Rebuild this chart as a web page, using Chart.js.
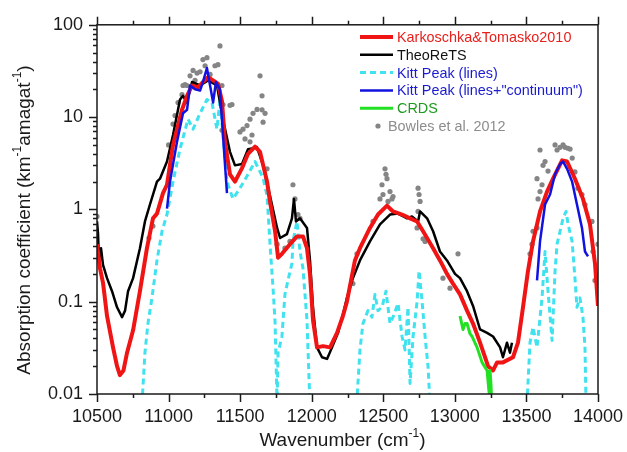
<!DOCTYPE html>
<html>
<head>
<meta charset="utf-8">
<script src="https://cdn.jsdelivr.net/npm/chart.js@4.4.1/dist/chart.umd.min.js"></script>
<style>
  body { margin: 0; background: #fff; }
  canvas { display: block; }
</style>
</head>
<body>
<canvas id="myChart" width="627" height="452"></canvas>
<script>
// values (wavenumber in cm-1, absorption in km-1 amagat-1)
const xTicks = [10500, 11000, 11500, 12000, 12500, 13000, 13500, 14000];
const yTicks = [0.01, 0.1, 1, 10, 100];

const karkX = [10500, 10521, 10542, 10570, 10612, 10640, 10660, 10685, 10710, 10752, 10800, 10849, 10891, 10919, 10961, 10989,
  11031, 11094, 11129, 11164, 11205, 11240, 11276, 11311, 11345, 11373, 11394, 11429, 11464, 11513, 11555, 11604, 11639,
  11688, 11709, 11744, 11765, 11792, 11848, 11897, 11939, 11967, 11988, 12009, 12037, 12079, 12128, 12177, 12218, 12246,
  12302, 12337, 12407, 12463, 12526, 12568, 12631, 12687, 12736, 12778, 12848, 12896, 12945, 12987, 13036, 13085, 13127,
  13176, 13232, 13267, 13295, 13336, 13406, 13441, 13476, 13511, 13546, 13595, 13644, 13686, 13749, 13784, 13839, 13895,
  13944, 13979, 14000];
const karkY = [0.42, 0.23, 0.16, 0.07, 0.032, 0.02, 0.016, 0.018, 0.028, 0.049, 0.13, 0.38, 0.8, 0.9, 1.5, 1.85,
  5.0, 12, 17, 22, 21, 24, 27, 25, 23, 15, 5.4, 2.4, 2.0, 2.8, 4.0, 4.8, 4.2,
  2.0, 1.2, 0.58, 0.3, 0.33, 0.42, 0.51, 0.51, 0.38, 0.2, 0.063, 0.032, 0.033, 0.032, 0.046, 0.07, 0.1,
  0.28, 0.38, 0.63, 0.88, 1.1, 0.95, 0.88, 0.8, 0.74, 0.58, 0.38, 0.28, 0.2, 0.157, 0.12, 0.08, 0.058,
  0.036, 0.02, 0.018, 0.022, 0.022, 0.025, 0.036, 0.087, 0.216, 0.45, 0.95, 1.56, 2.15, 3.4, 3.3, 2.15, 1.3,
  0.69, 0.26, 0.09];

const theoX = [10500, 10507, 10514, 10528, 10542, 10570, 10605, 10640, 10675, 10696, 10717, 10752, 10800, 10835, 10870,
  10919, 10940, 10989, 11031, 11080, 11101, 11129, 11164, 11220, 11276, 11338, 11380, 11429, 11464, 11513, 11555, 11618,
  11660, 11709, 11758, 11779, 11827, 11862, 11876, 11890, 11918, 11967, 11988, 12009, 12037, 12072, 12107, 12142, 12184,
  12220, 12246, 12288, 12337, 12407, 12477, 12547, 12603, 12666, 12700, 12743, 12757, 12806, 12848, 12896, 12945, 13001,
  13036, 13085, 13127, 13176, 13225, 13267, 13316, 13336, 13364, 13385, 13399];
const theoY = [0.74, 0.55, 0.28, 0.38, 0.25, 0.18, 0.13, 0.087, 0.068, 0.08, 0.13, 0.18, 0.38, 0.74, 1.13,
  2.0, 2.15, 3.3, 6.4, 15.5, 17, 14.4, 24, 22, 25, 22, 9.5, 4.2, 3.0, 3.1, 4.5, 4.7,
  3.0, 1.4, 0.63, 0.49, 0.54, 0.8, 1.3, 0.74, 0.8, 0.63, 0.28, 0.087, 0.032, 0.025, 0.024, 0.032, 0.046,
  0.075, 0.11, 0.18, 0.28, 0.45, 0.69, 0.88, 0.9, 0.8, 0.84, 0.74, 0.95, 0.8, 0.58, 0.35, 0.28, 0.2,
  0.18, 0.13, 0.09, 0.05, 0.046, 0.042, 0.032, 0.025, 0.036, 0.028, 0.036];

const kittLinesX = [10810, 10835, 10856, 10884, 10919, 10954, 10989, 11031, 11080, 11136, 11171, 11220, 11268, 11303,
  11338, 11359, 11380, 11408, 11450, 11499, 11555, 11604, 11660, 11688, 11700, 11715, 11730, 11744, 11758, 11765, 11792,
  11813, 11834, 11862, 11869, 11883, 11897, 11918, 11939, 11967, 11990, 12150,
  12310, 12337, 12358, 12393, 12421, 12442, 12463, 12491, 12519, 12547, 12568, 12603, 12631, 12652, 12673, 12687, 12708,
  12736, 12750, 12771, 12792, 12813, 12830, 13200,
  13500, 13525, 13546, 13574, 13609, 13630, 13651, 13679, 13700, 13714, 13735, 13756, 13777, 13791, 13819, 13839, 13853,
  13874, 13895, 13909, 13918];
const kittLinesY = [0.006, 0.028, 0.058, 0.11, 0.28, 0.58, 0.88, 2.0, 4.5, 9.5, 7.4, 11, 15.5, 14.4,
  7.4, 15.5, 6.4, 2.0, 1.3, 1.7, 2.4, 3.3, 2.2, 1.4, 0.7, 0.3, 0.14, 0.06, 0.008, 0.028, 0.042,
  0.12, 0.17, 0.26, 0.45, 0.58, 0.74, 0.35, 0.23, 0.063, 0.006, null,
  0.006, 0.03, 0.058, 0.08, 0.068, 0.12, 0.08, 0.087, 0.13, 0.058, 0.068, 0.096, 0.042, 0.03, 0.087, 0.013, 0.042,
  0.1, 0.216, 0.1, 0.042, 0.0196, 0.006, null,
  0.006, 0.036, 0.053, 0.032, 0.11, 0.35, 0.13, 0.038, 0.216, 0.42, 0.58, 0.8, 0.95, 0.69, 0.45, 0.18, 0.087,
  0.11, 0.068, 0.032, 0.006];

const kittContX = [10989, 11010, 11059, 11101, 11129, 11150, 11185, 11220, 11240, 11268, 11290, 11311, 11331, 11359,
  11380, 11408, 12500, 13574, 13595, 13630, 13665, 13700, 13735, 13756, 13784, 13819, 13853, 13888, 13909, 13930];
const kittContY = [1.02, 2.0, 5.4, 11, 12, 22, 20, 19.4, 24, 34, 22, 14.4, 24, 20,
  6.4, 1.5, null, 0.17, 0.45, 1.13, 1.45, 2.4, 3.1, 3.3, 2.75, 2.0, 1.13, 0.63, 0.35, 0.31];

const crdsX = [13036, 13057, 13071, 13085, 13106, 13120, 13155, 13190, 13225, 13239, 13246, 13253, 13260];
const crdsY = [0.07, 0.05, 0.058, 0.058, 0.045, 0.042, 0.032, 0.022, 0.018, 0.0104, 0.018, 0.012, 0.006];

const bowlesX = [10500, 10863, 10891, 10996, 11000, 11031, 11045, 11066, 11094, 11101, 11115, 11129, 11150, 11171, 11185,
  11199, 11220, 11240, 11255, 11268, 11290, 11324, 11345, 11359, 11373, 11380, 11373, 11429, 11443, 11499, 11520, 11534,
  11548, 11569, 11569, 11583, 11590, 11618, 11639, 11653, 11660, 11653, 11674, 11688, 11758, 11813, 11848, 11869, 11883,
  11904, 11918, 12288, 12316, 12428, 12477, 12491, 12498, 12512, 12519, 12526, 12533, 12547, 12561, 12568, 12736, 12743,
  12743, 12750, 12757, 12778, 12792, 12917, 12966, 13022, 13525, 13539, 13546, 13574, 13574, 13581, 13595, 13595, 13609,
  13616, 13630, 13651, 13700, 13714, 13735, 13756, 13770, 13790, 13805, 13820, 13839, 13860, 13888, 13909, 13958, 13965,
  13979, 14000];
const bowlesY = [0.84, 0.49, 0.66, 1.85, 5.0, 8.4, 10.4, 14.4, 17.5, 22, 22.5, 22, 28, 32, 25,
  30, 31, 42, 36, 44, 29, 36, 37, 59, 22, 13.7, 7.2, 13.4, 13.7, 6.9, 7.4, 5.8,
  8.1, 5.4, 9.5, 6.4, 11, 12.1, 28, 17, 8.8, 12, 11, 2.75, 0.42, 0.38, 0.45, 1.85, 1.3,
  0.88, 0.8, 0.157, 0.33, 0.74, 1.3, 1.85, 1.45, 2.75, 2.4, 2.15, 1.22, 1.56, 1.3, 1.38, 0.63, 0.95,
  1.7, 1.45, 1.22, 0.48, 0.45, 0.18, 0.14, 0.33, 0.33, 0.42, 0.58, 0.63, 2.15, 1.3, 1.56, 4.4, 1.85,
  3.0, 3.3, 2.6, 5.0, 4.4, 4.7, 5.0, 4.7, 4.6, 4.5, 3.6, 2.55, 1.7, 1.45, 1.13, 0.74, 0.35,
  0.17, 0.42];

const legendNames = ['Karkoschka&Tomasko2010', 'TheoReTS', 'Kitt Peak (lines)',
  'Kitt Peak (lines+"continuum")', 'CRDS', 'Bowles et al. 2012'];
const legendColors = ['#e8201c', '#111111', '#1a1ad0', '#1a1ad0', '#1e9a1e', '#8c8c8c'];

const FONT = '"Liberation Sans", Arial, sans-serif';

const pts = (xs, ys) => xs.map((x, i) => ({ x: x, y: ys[i] }));

// tick marks, frame, axis titles with superscripts, legend
const decorations = {
  id: 'decorations',
  afterDraw(chart) {
    const { ctx, chartArea: a, scales: { x, y } } = chart;
    ctx.save();
    ctx.strokeStyle = '#1a1a1a';
    ctx.lineWidth = 1.5;
    ctx.strokeRect(a.left, a.top, a.right - a.left, a.bottom - a.top);

    ctx.beginPath();
    for (let v = xTicks[0]; v <= xTicks[xTicks.length - 1]; v += 250) {
      const px = Math.round(x.getPixelForValue(v)) + 0.5;
      const len = v % 500 === 0 ? 8 : 4;
      ctx.moveTo(px, a.bottom); ctx.lineTo(px, a.bottom + len);
      ctx.moveTo(px, a.top); ctx.lineTo(px, a.top - len);
    }
    for (let d = 0; d < yTicks.length; d++) {
      const base = yTicks[d];
      const top = d === yTicks.length - 1 ? 1 : 9;
      for (let m = 1; m <= top; m++) {
        const py = Math.round(y.getPixelForValue(base * m)) + 0.5;
        const len = m === 1 ? 8 : 4;
        ctx.moveTo(a.left, py); ctx.lineTo(a.left - len, py);
      }
    }
    ctx.stroke();

    // axis titles
    const drawSup = (parts, cx, cy) => {
      const big = '19px ' + FONT, small = '12px ' + FONT;
      let w = 0;
      parts.forEach(p => { ctx.font = p[1] ? small : big; w += ctx.measureText(p[0]).width; });
      let px = cx - w / 2;
      ctx.textBaseline = 'middle';
      ctx.textAlign = 'left';
      parts.forEach(p => {
        ctx.font = p[1] ? small : big;
        ctx.fillText(p[0], px, p[1] ? cy - 7 : cy);
        px += ctx.measureText(p[0]).width;
      });
    };
    ctx.fillStyle = '#1a1a1a';
    drawSup([['Wavenumber (cm', 0], ['-1', 1], [')', 0]], (a.left + a.right) / 2 - 5, 441);
    ctx.save();
    ctx.translate(25, 220);
    ctx.rotate(-Math.PI / 2);
    drawSup([['Absorption coefficient (km', 0], ['-1', 1], ['amagat', 0], ['-1', 1], [')', 0]], 0, 0);
    ctx.restore();

    // legend
    const rowY = 37, rowH = 17.8;
    ctx.font = '14.4px ' + FONT;
    chart.data.datasets.forEach((ds, i) => {
      const yy = rowY + i * rowH;
      if (ds.showLine === false) {
        ctx.fillStyle = ds.backgroundColor;
        ctx.beginPath();
        ctx.arc(378, yy, ds.pointRadius, 0, Math.PI * 2);
        ctx.fill();
      } else {
        ctx.strokeStyle = ds.borderColor;
        ctx.lineWidth = ds.borderWidth;
        ctx.setLineDash(ds.borderDash || []);
        ctx.beginPath();
        ctx.moveTo(360, yy); ctx.lineTo(393, yy);
        ctx.stroke();
        ctx.setLineDash([]);
      }
      ctx.fillStyle = legendColors[i];
      ctx.textAlign = 'left';
      ctx.textBaseline = 'middle';
      ctx.fillText(legendNames[i], i === 5 ? 388 : 397, yy + 1);
    });
    ctx.restore();
  }
};

const ctx = document.getElementById('myChart');

const myChart = new Chart(ctx, { // eslint-disable-line
  type: 'line',
  data: {
    datasets: [
      {
        label: legendNames[0],
        data: pts(karkX, karkY),
        borderColor: '#f01414',
        borderWidth: 4,
        order: 1
      },
      {
        label: legendNames[1],
        data: pts(theoX, theoY),
        borderColor: '#000000',
        borderWidth: 2.5,
        order: 2
      },
      {
        label: legendNames[2],
        data: pts(kittLinesX, kittLinesY),
        borderColor: '#3fe2ee',
        borderWidth: 3,
        borderDash: [6, 4],
        order: 3
      },
      {
        label: legendNames[3],
        data: pts(kittContX, kittContY),
        borderColor: '#1212e0',
        borderWidth: 2.5,
        order: 0
      },
      {
        label: legendNames[4],
        data: pts(crdsX, crdsY),
        borderColor: '#22e022',
        borderWidth: 3,
        order: 0
      },
      {
        label: legendNames[5],
        data: pts(bowlesX, bowlesY),
        showLine: false,
        pointRadius: 2.6,
        backgroundColor: '#858585',
        borderColor: '#858585',
        borderWidth: 0,
        order: 4
      }
    ]
  },
  options: {
    responsive: false,
    animation: false,
    spanGaps: false,
    elements: {
      point: { radius: 0 },
      line: { tension: 0, borderJoinStyle: 'round' }
    },
    layout: { padding: { top: 21, right: 29, left: 0, bottom: 0 } },
    plugins: {
      legend: { display: false },
      tooltip: { enabled: false }
    },
    scales: {
      x: {
        type: 'linear',
        min: 10500,
        max: 14000,
        afterBuildTicks: s => { s.ticks = xTicks.map(v => ({ value: v })); },
        afterFit: s => { s.height = 58; s.paddingLeft = 0; s.paddingRight = 0; },
        grid: { display: false, drawTicks: false },
        border: { display: false },
        ticks: {
          callback: v => String(v),
          color: '#1a1a1a',
          font: { size: 18, family: FONT },
          padding: 12,
          maxRotation: 0
        }
      },
      y: {
        type: 'logarithmic',
        min: 0.01,
        max: 100,
        afterBuildTicks: s => { s.ticks = yTicks.map(v => ({ value: v })); },
        afterFit: s => { s.width = 97; },
        grid: { display: false, drawTicks: false },
        border: { display: false },
        ticks: {
          callback: v => String(v),
          color: '#1a1a1a',
          font: { size: 18, family: FONT },
          padding: 14
        }
      }
    }
  },
  plugins: [decorations]
});
</script>
</body>
</html>
